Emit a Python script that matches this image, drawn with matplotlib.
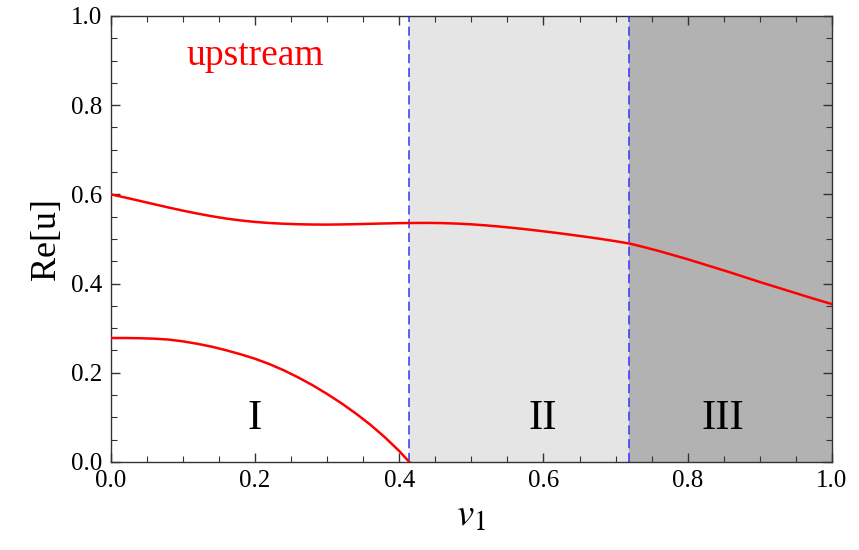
import matplotlib
matplotlib.use("Agg")
import matplotlib.pyplot as plt
from matplotlib.ticker import MultipleLocator

plt.rcParams['font.family'] = ['Liberation Serif', 'DejaVu Serif']
plt.rcParams['mathtext.fontset'] = 'stix'

# upper branch of Re[u]
v_upper = [0.00, 0.02, 0.04, 0.06, 0.08, 0.10, 0.12, 0.14, 0.16, 0.18, 0.20,
           0.22, 0.24, 0.26, 0.28, 0.30, 0.32, 0.34, 0.36, 0.38, 0.40, 0.42,
           0.44, 0.46, 0.48, 0.50, 0.52, 0.54, 0.56, 0.58, 0.60, 0.62, 0.64,
           0.66, 0.68, 0.70, 0.72, 0.74, 0.76, 0.78, 0.80, 0.82, 0.84, 0.86,
           0.88, 0.90, 0.92, 0.94, 0.96, 0.98, 1.00]
re_upper = [0.600, 0.5929, 0.5855, 0.5780, 0.5706, 0.5635, 0.5570, 0.5510,
            0.5458, 0.5416, 0.5382, 0.5358, 0.5341, 0.5330, 0.5324, 0.5322,
            0.5326, 0.5332, 0.5340, 0.5348, 0.5355, 0.5359, 0.5360, 0.5356,
            0.5345, 0.5328, 0.5305, 0.5277, 0.5245, 0.5210, 0.5172, 0.5132,
            0.5090, 0.5046, 0.5000, 0.4950, 0.4895, 0.4815, 0.4730, 0.4638,
            0.4545, 0.4445, 0.4345, 0.4245, 0.4140, 0.4035, 0.3935, 0.3835,
            0.3735, 0.3635, 0.354]

# lower branch, ends at first boundary
v_lower = [0.00, 0.02, 0.04, 0.06, 0.08, 0.10, 0.12, 0.14, 0.16, 0.18, 0.20,
           0.22, 0.24, 0.26, 0.28, 0.30, 0.32, 0.34, 0.36, 0.38, 0.40, 0.414]
re_lower = [0.278, 0.278, 0.2775, 0.2765, 0.2745, 0.2705, 0.2650, 0.2585,
            0.2505, 0.2415, 0.2315, 0.2195, 0.2055, 0.1895, 0.1720, 0.1525,
            0.1315, 0.1085, 0.0835, 0.0555, 0.0245, 0.000]

# region boundaries and labels
boundaries = [0.414, 0.718]
region_names = ["I", "II", "III"]
region_x = [0.20, 0.599, 0.849]

fig = plt.figure(figsize=(8.59, 5.5), dpi=100)
ax = fig.add_axes([0.129, 0.16, 0.8395, 0.811])

ax.axvspan(boundaries[0], boundaries[1], color='#e5e5e5', lw=0, zorder=0)
ax.axvspan(boundaries[1], 1.0, color='#b2b2b2', lw=0, zorder=0)
for b in boundaries:
    ax.axvline(b, color='#3333ff', lw=1.1, dashes=(6, 3), zorder=1)

ax.plot(v_upper, re_upper, color='#ff0000', lw=1.8, zorder=3, solid_joinstyle='round')
ax.plot(v_lower, re_lower, color='#ff0000', lw=1.8, zorder=3, solid_joinstyle='round')

for name, x in zip(region_names, region_x):
    ax.text(x, 0.074, name, ha='center', va='baseline', fontsize=31, color='black')
ax.text(0.2, 0.89, "upstream", ha='center', va='baseline', fontsize=27, color='#ff0000')

ax.set_xlim(0, 1)
ax.set_ylim(0, 1)
ax.xaxis.set_major_locator(MultipleLocator(0.2))
ax.yaxis.set_major_locator(MultipleLocator(0.2))
ax.xaxis.set_minor_locator(MultipleLocator(0.05))
ax.yaxis.set_minor_locator(MultipleLocator(0.05))
ax.xaxis.set_major_formatter(lambda v, p: f"{v:.1f}")
ax.yaxis.set_major_formatter(lambda v, p: f"{v:.1f}")
ax.tick_params(which='both', direction='in', top=True, right=True, color='#333333')
ax.tick_params(which='major', length=6.5, width=1, pad=6, labelsize=18)
ax.tick_params(which='minor', length=4, width=0.8)
for s in ax.spines.values():
    s.set_color('#333333')
    s.set_linewidth(1)

ax.set_xlabel(r"$v_1$", fontsize=28, labelpad=4)
ax.set_ylabel("Re[u]", fontsize=26, labelpad=6)

fig.savefig("out.png", dpi=100)
